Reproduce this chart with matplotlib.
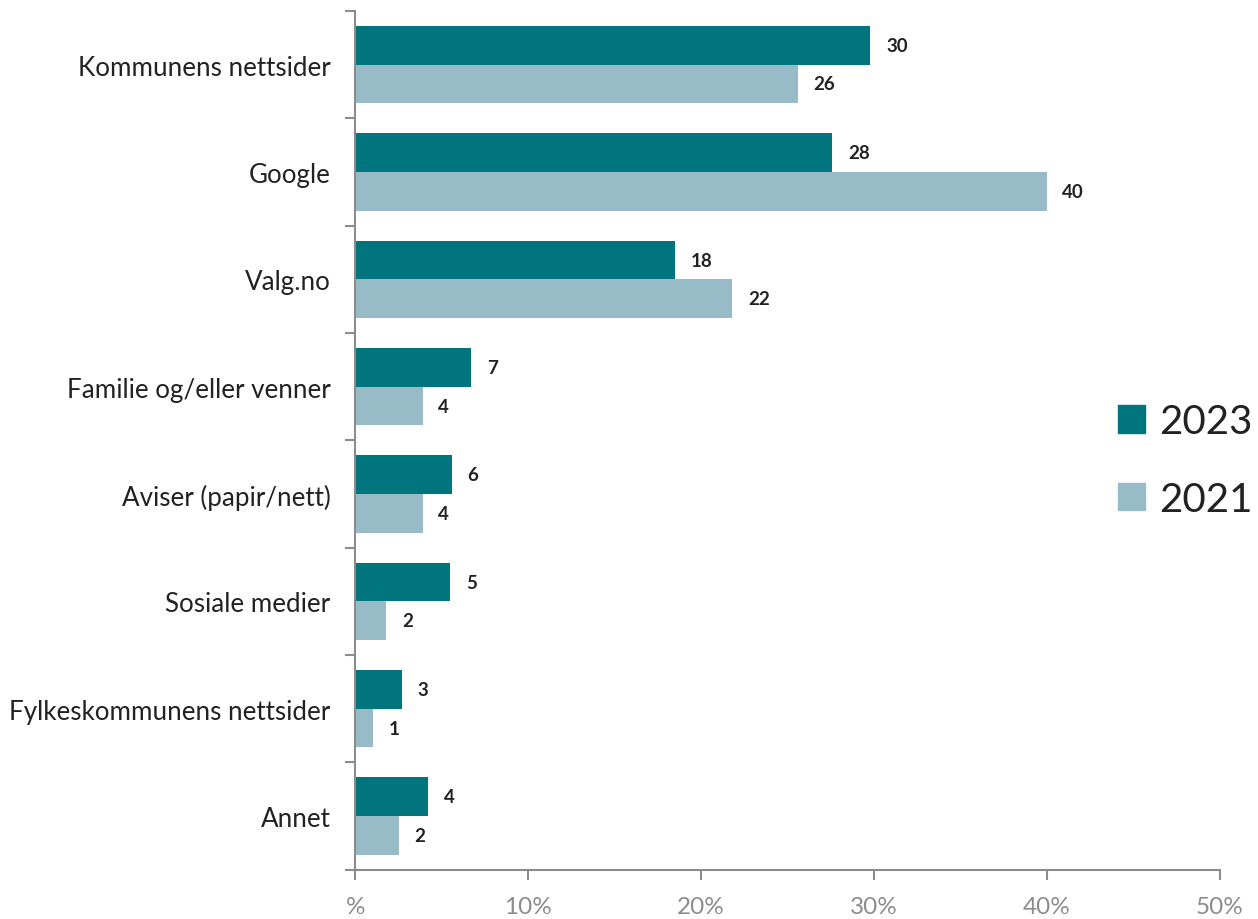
import numpy as np
import matplotlib.pyplot as plt
from matplotlib.patches import Patch

categories = ["Kommunens nettsider", "Google", "Valg.no", "Familie og/eller venner",
              "Aviser (papir/nett)", "Sosiale medier", "Fylkeskommunens nettsider", "Annet"]
v2023 = [29.8, 27.6, 18.5, 6.7, 5.6, 5.5, 2.7, 4.2]
v2021 = [25.6, 40.0, 21.8, 3.9, 3.9, 1.8, 1.0, 2.5]
lab2023 = ["30", "28", "18", "7", "6", "5", "3", "4"]
lab2021 = ["26", "40", "22", "4", "4", "2", "1", "2"]
xticks = [0, 10, 20, 30, 40, 50]
xticklabels = ["%", "10%", "20%", "30%", "40%", "50%"]

c23 = "#00757d"
c21 = "#98bcc7"
grey = "#8c8c8c"

plt.rcParams['font.family'] = ['Lato', 'DejaVu Sans']

fig = plt.figure(figsize=(12.58, 9.2), dpi=100)
ax = fig.add_axes([0.2825, 0.0535, 0.687, 0.9335])

y = np.arange(len(categories))
h = 0.36
b1 = ax.barh(y - h/2, v2023, height=h, color=c23, label="2023")
b2 = ax.barh(y + h/2, v2021, height=h, color=c21, label="2021")

for bars, labs in ((b1, lab2023), (b2, lab2021)):
    for bar, lab in zip(bars, labs):
        ax.text(bar.get_width() + 0.9, bar.get_y() + bar.get_height()/2, lab,
                ha="left", va="center", fontsize=13.5, fontweight="bold", color="#222222")

ax.set_xlim(0, 50)
ax.set_ylim(len(categories) - 0.5, -0.5)
ax.set_xticks(xticks)
ax.set_xticklabels(xticklabels, fontsize=17.5, color=grey)

ax.set_yticks(y)
ax.set_yticklabels(categories, fontsize=18.7, color="#222222")
ax.tick_params(axis="y", length=0, pad=18)
ax.set_yticks(np.arange(len(categories) + 1) - 0.5, minor=True)
ax.tick_params(axis="y", which="minor", length=7, width=1.5, color=grey, direction="out")
ax.tick_params(axis="x", length=7, width=1.5, color=grey, direction="out", pad=12)

for s in ["top", "right"]:
    ax.spines[s].set_visible(False)
for s in ["left", "bottom"]:
    ax.spines[s].set_color(grey)
    ax.spines[s].set_linewidth(1.5)

handles = [Patch(color=c23, label="2023"), Patch(color=c21, label="2021")]
fig.legend(handles=handles, loc="center left", bbox_to_anchor=(0.8887, 0.4984),
           frameon=False, fontsize=29, handlelength=0.675, handleheight=0.675,
           handletextpad=0.35, labelspacing=1.0, borderpad=0, borderaxespad=0,
           labelcolor="#222222")

fig.savefig("out.png", dpi=100)
